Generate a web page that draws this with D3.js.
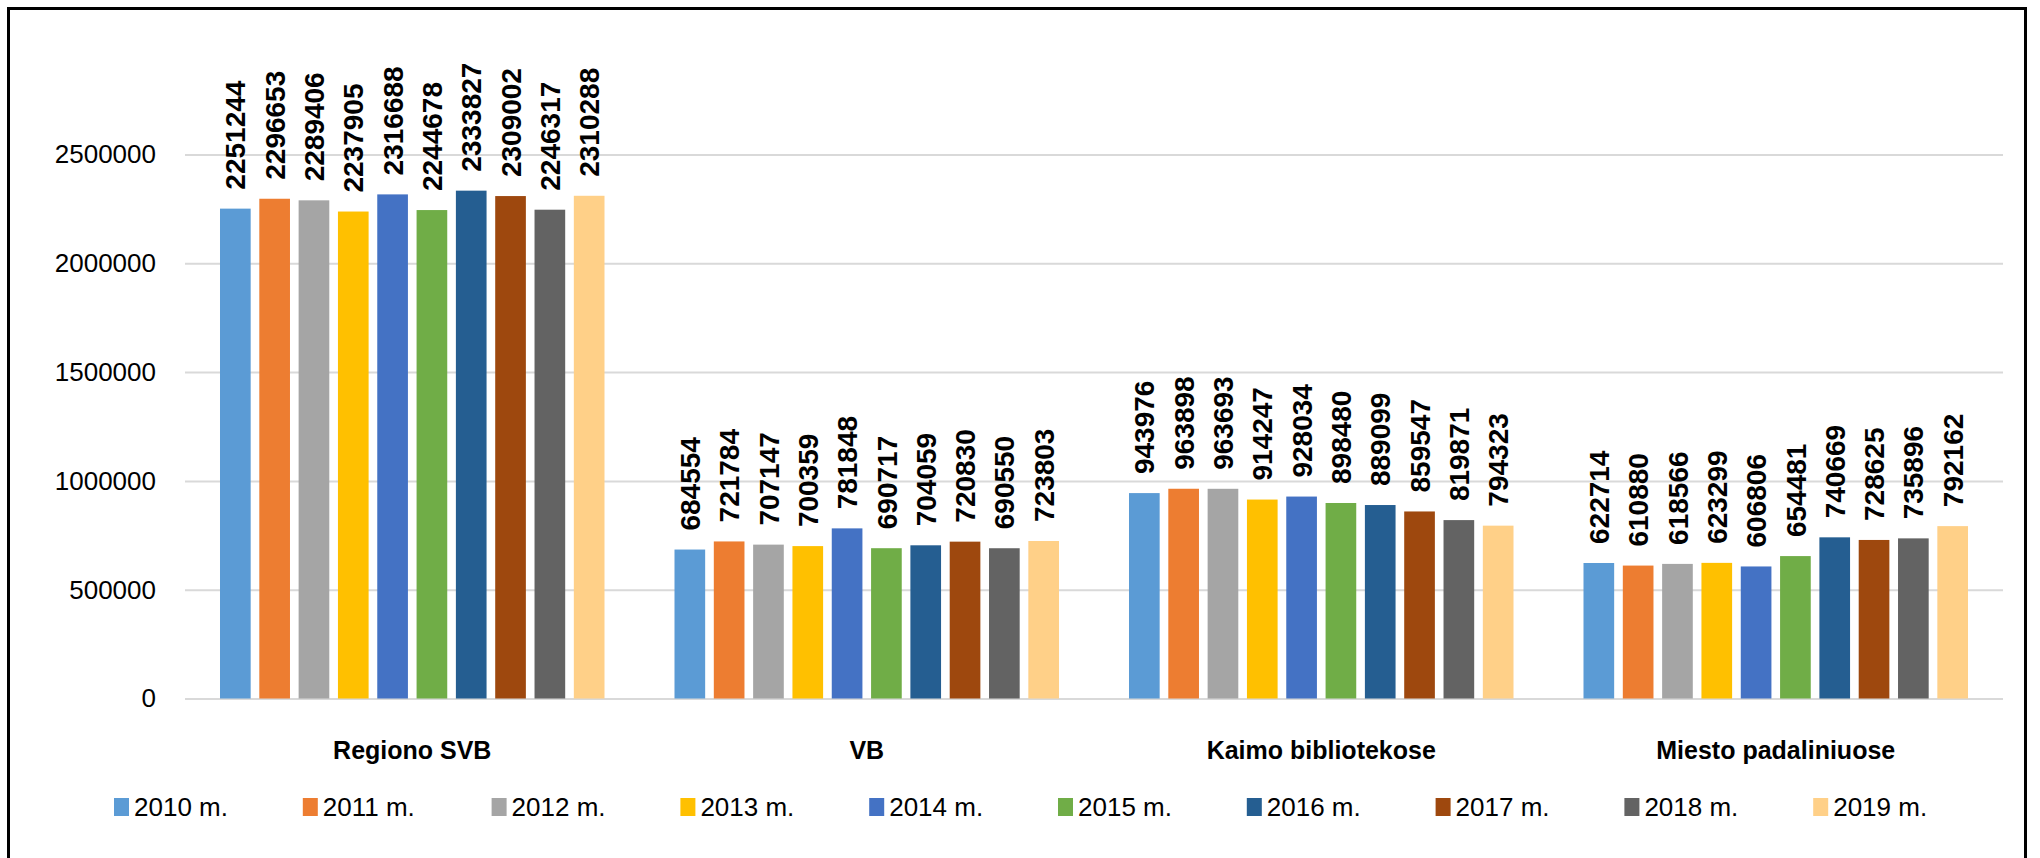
<!DOCTYPE html>
<html>
<head>
<meta charset="utf-8">
<script src="https://cdn.jsdelivr.net/npm/d3@7"></script>
<style>
  html, body { margin: 0; padding: 0; background: #fff; }
  #viz { width: 2040px; height: 858px; }
  text { font-family: "Liberation Sans", Arial, sans-serif; }
</style>
</head>
<body>
<div id="viz"></div>
<script>
// kategorijos ir metai
var categories = ["Regiono SVB", "VB", "Kaimo bibliotekose", "Miesto padaliniuose"];
var years = ["2010 m.", "2011 m.", "2012 m.", "2013 m.", "2014 m.", "2015 m.", "2016 m.", "2017 m.", "2018 m.", "2019 m."];

// reikšmės pagal kategoriją (eilė = metai)
var regionoSVB = [2251244, 2296653, 2289406, 2237905, 2316688, 2244678, 2333827, 2309002, 2246317, 2310288];
var vb = [684554, 721784, 707147, 700359, 781848, 690717, 704059, 720830, 690550, 723803];
var kaimo = [943976, 963898, 963693, 914247, 928034, 898480, 889099, 859547, 819871, 794323];
var miesto = [622714, 610880, 618566, 623299, 606806, 654481, 740669, 728625, 735896, 792162];

var yTicks = [0, 500000, 1000000, 1500000, 2000000, 2500000];

var colors = ["#5B9BD5", "#ED7D31", "#A5A5A5", "#FFC000", "#4472C4", "#70AD47", "#255E91", "#9E480E", "#636363", "#FFD088"];

var seriesByCategory = [regionoSVB, vb, kaimo, miesto];

var svg = d3.select("#viz").append("svg")
    .attr("width", 2040)
    .attr("height", 858);

// rėmelis
svg.append("rect")
    .attr("x", 8.5)
    .attr("y", 8.5)
    .attr("width", 2017)
    .attr("height", 900)
    .style("fill", "none")
    .style("stroke", "#000")
    .style("stroke-width", 3);

var plotLeft = 185, plotRight = 2003;

var x0 = d3.scaleBand()
    .domain(categories)
    .range([plotLeft, plotRight])
    .padding(0);

var x1 = d3.scaleBand()
    .domain(years)
    .range([x0.bandwidth() * 0.077, x0.bandwidth() * 0.923])
    .paddingInner(0.22)
    .paddingOuter(0);

var y = d3.scaleLinear()
    .domain([0, 2500000])
    .range([698.5, 154.5]);

drawYAxis();
drawBars();
drawCategoryLabels();
drawLegend();

function drawYAxis() {
    var yAxis = d3.axisLeft(y)
        .tickValues(yTicks)
        .tickSize(-(plotRight - plotLeft))
        .tickPadding(29)
        .tickFormat(d3.format("d"));

    var g = svg.append("g")
        .attr("class", "axis")
        .attr("transform", "translate(" + plotLeft + ",0)")
        .call(yAxis);

    g.select(".domain").remove();
    g.selectAll(".tick line")
        .style("stroke", "#d9d9d9")
        .style("stroke-width", 2);
    g.selectAll(".tick text")
        .attr("font-size", "26px")
        .attr("fill", "#000")
        .attr("font-family", "Liberation Sans, Arial, sans-serif");
}

function drawBars() {
    var groups = svg.selectAll("g.group")
        .data(categories)
        .enter()
        .append("g")
        .attr("class", "group")
        .attr("transform", function(d) { return "translate(" + x0(d) + ",0)"; });

    var bars = groups.selectAll("rect")
        .data(function(d, i) {
            return seriesByCategory[i].map(function(v, j) { return {year: years[j], value: v, idx: j}; });
        })
        .enter()
        .append("rect")
        .attr("x", function(d) { return x1(d.year); })
        .attr("y", function(d) { return y(d.value); })
        .attr("width", x1.bandwidth())
        .attr("height", function(d) { return y(0) - y(d.value); })
        .style("fill", function(d) { return colors[d.idx]; });

    // reikšmių etiketės
    groups.selectAll("text.val")
        .data(function(d, i) {
            return seriesByCategory[i].map(function(v, j) { return {year: years[j], value: v}; });
        })
        .enter()
        .append("text")
        .attr("class", "val")
        .attr("transform", function(d) {
            return "translate(" + (x1(d.year) + x1.bandwidth() / 2) + "," + (y(d.value) - 19) + ") rotate(-90)";
        })
        .attr("dy", "0.36em")
        .attr("text-anchor", "start")
        .attr("font-size", "28px")
        .attr("font-weight", "bold")
        .attr("fill", "#000")
        .text(function(d) { return d.value; });
}

function drawCategoryLabels() {
    svg.selectAll("text.cat")
        .data(categories)
        .enter()
        .append("text")
        .attr("class", "cat")
        .attr("x", function(d) { return x0(d) + x0.bandwidth() / 2; })
        .attr("y", 750)
        .attr("dy", "0.36em")
        .attr("text-anchor", "middle")
        .attr("font-size", "25px")
        .attr("font-weight", "bold")
        .attr("fill", "#000")
        .text(function(d) { return d; });
}

function drawLegend() {
    var lx = d3.scalePoint()
        .domain(years)
        .range([114, 114 + 188.8 * 9]);

    var item = svg.selectAll("g.legend")
        .data(years)
        .enter()
        .append("g")
        .attr("class", "legend")
        .attr("transform", function(d) { return "translate(" + lx(d) + ",807)"; });

    item.append("rect")
        .attr("x", 0)
        .attr("y", -9)
        .attr("width", 15)
        .attr("height", 18)
        .style("fill", function(d, i) { return colors[i]; });

    item.append("text")
        .attr("x", 20)
        .attr("y", 0)
        .attr("dy", "0.36em")
        .attr("font-size", "26px")
        .attr("fill", "#000")
        .text(function(d) { return d; });
}
</script>
</body>
</html>
